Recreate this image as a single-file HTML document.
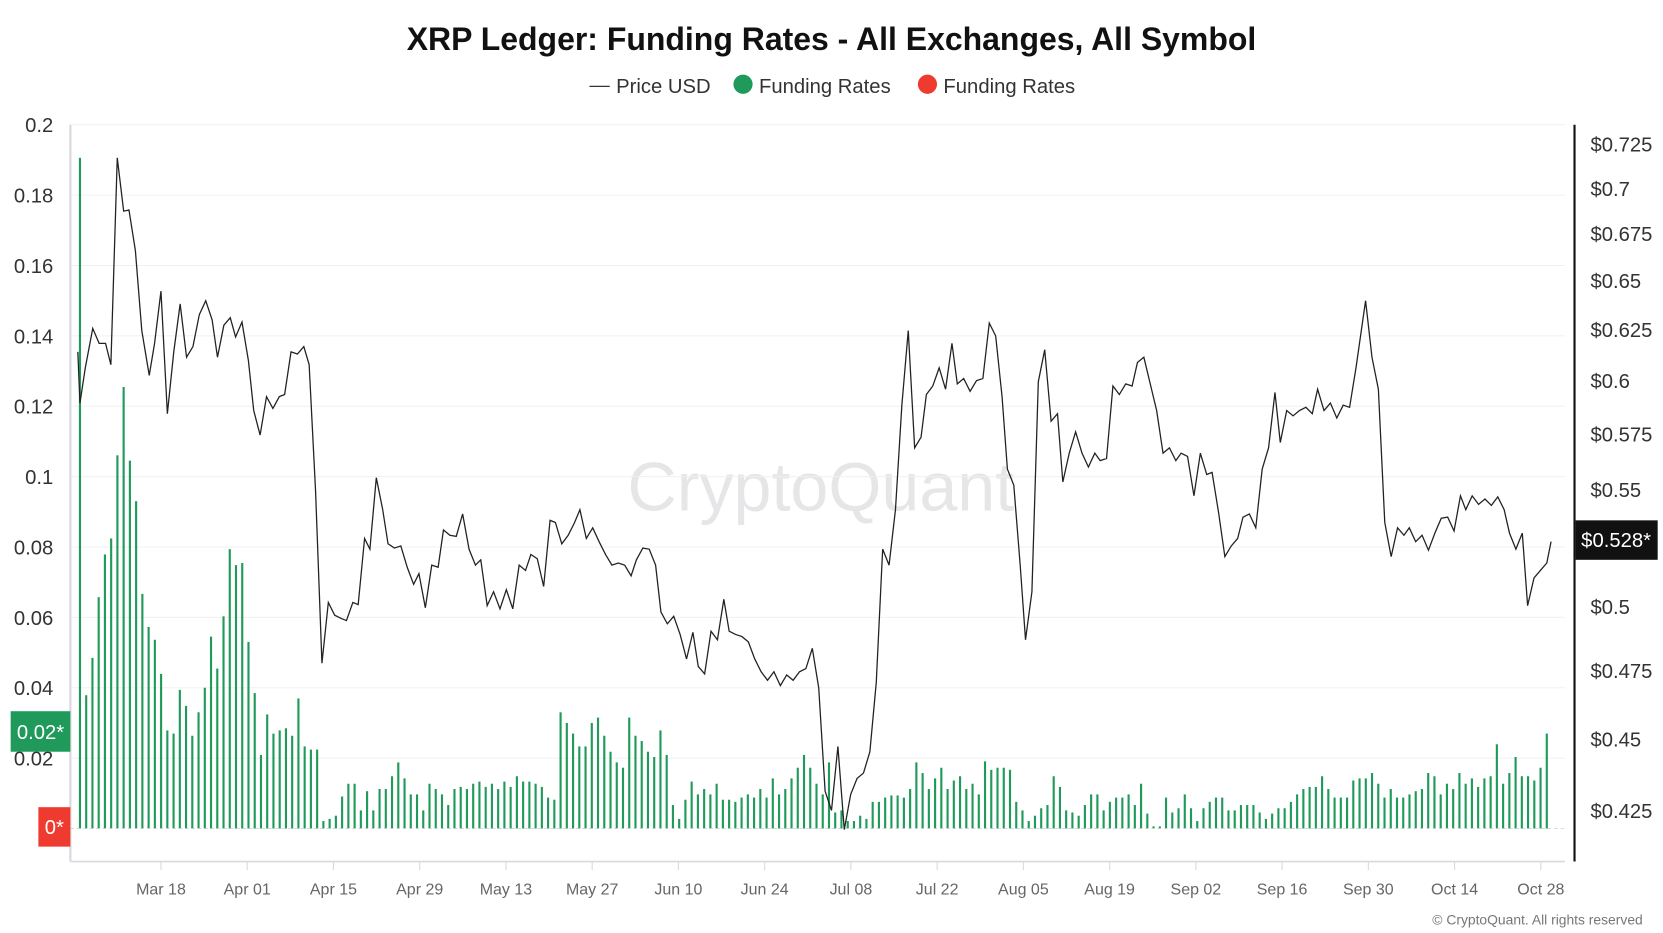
<!DOCTYPE html>
<html><head><meta charset="utf-8"><style>
html,body{margin:0;padding:0;background:#fff;}
svg{display:block;font-family:"Liberation Sans",sans-serif;}
</style></head><body>
<svg id="s" width="1663" height="933" viewBox="0 0 1560 875" preserveAspectRatio="none" xmlns="http://www.w3.org/2000/svg">
<rect width="1560" height="875" fill="#fff"/>
<text x="780" y="47" text-anchor="middle" font-size="30" font-weight="bold" fill="#111">XRP Ledger: Funding Rates - All Exchanges, All Symbol</text>
<g font-size="19" fill="#333">
<line x1="553" y1="81" x2="572" y2="81" stroke="#333" stroke-width="1.2"/>
<text x="578" y="87">Price USD</text>
<circle cx="697" cy="79" r="9" fill="#1f9a5a"/>
<text x="712" y="87">Funding Rates</text>
<circle cx="870" cy="79" r="9" fill="#ef3b2f"/>
<text x="885" y="87">Funding Rates</text>
</g>
<text x="770" y="479" text-anchor="middle" font-size="64" fill="#e6e6e8">CryptoQuant</text>
<g id="grid" stroke="#f0f0f0" stroke-width="1"></g>
<g id="lt" font-size="19" fill="#333" text-anchor="end"></g>
<g id="rt" font-size="19" fill="#333"></g>
<line x1="66" y1="117" x2="66" y2="808" stroke="#d8d8de" stroke-width="2"/>
<line x1="1477" y1="117" x2="1477" y2="808" stroke="#111" stroke-width="2"/>
<line x1="66" y1="808" x2="1468" y2="808" stroke="#d8d8de" stroke-width="1.5"/>
<g id="xt" font-size="15" fill="#666" text-anchor="middle"></g>
<g id="bars" fill="#1f9a5a"></g>
<line x1="66" y1="777" x2="1468" y2="777" stroke="#ccc" stroke-width="0.8" stroke-dasharray="3,3"/>
<polyline id="price" fill="none" stroke="#222" stroke-width="1.2"/>
<rect x="10" y="667" width="56" height="38" fill="#1f9a5a"/>
<text x="38" y="693" text-anchor="middle" font-size="19" fill="#fff">0.02*</text>
<rect x="36" y="757" width="30" height="37" fill="#ef3b2f"/>
<text x="51" y="782" text-anchor="middle" font-size="19" fill="#fff">0*</text>
<rect x="1478" y="488" width="77" height="37" fill="#111"/>
<text x="1516" y="513" text-anchor="middle" font-size="19" fill="#fff">$0.528*</text>
<text x="1541" y="867" text-anchor="end" font-size="13" fill="#777">© CryptoQuant. All rights reserved</text>
</svg>
<script>
var NS="http://www.w3.org/2000/svg";
function el(p,t,a,tx){var e=document.createElementNS(NS,t);for(var k in a)e.setAttribute(k,a[k]);if(tx!=null)e.textContent=tx;document.getElementById(p).appendChild(e);}
var ll=["0.2","0.18","0.16","0.14","0.12","0.1","0.08","0.06","0.04","0.02"];
for(var i=0;i<ll.length;i++){var y=117+66*i;el("grid","line",{x1:66,y1:y,x2:1468,y2:y});el("lt","text",{x:50,y:y+7},ll[i]);}
var rl=[["$0.725",135],["$0.7",177],["$0.675",219],["$0.65",263],["$0.625",309],["$0.6",357],["$0.575",407],["$0.55",459],["$0.5",569],["$0.475",629],["$0.45",693],["$0.425",760]];
rl.forEach(function(r){el("rt","text",{x:1492,y:r[1]+7},r[0]);});
var xl=["Mar 18","Apr 01","Apr 15","Apr 29","May 13","May 27","Jun 10","Jun 24","Jul 08","Jul 22","Aug 05","Aug 19","Sep 02","Sep 16","Sep 30","Oct 14","Oct 28"];
xl.forEach(function(t,i){var x=151+i*80.9;el("xt","line",{x1:x,y1:808,x2:x,y2:816,stroke:"#d8d8de"});el("xt","text",{x:x,y:839},t);});
var b=[148,652,617,560,520,505,427,363,432,470,557,588,600,632,685,688,647,662,690,668,645,597,627,578,515,530,528,602,650,708,670,688,685,683,690,655,700,703,703,770,768,765,747,735,735,760,742,760,740,740,728,715,730,745,745,760,735,740,745,755,740,738,740,735,733,738,735,740,733,738,728,733,733,735,738,748,750,668,678,688,700,700,678,673,690,705,715,720,673,690,695,705,710,685,708,755,768,750,733,745,740,745,735,750,750,752,748,745,748,740,748,730,745,740,730,720,708,720,735,745,715,762,760,770,770,765,768,752,752,748,746,746,748,740,715,725,740,730,720,740,732,728,740,735,745,714,722,720,720,722,752,760,770,765,758,755,728,738,760,762,765,755,745,745,760,752,748,748,745,755,735,763,775,775,748,762,758,745,758,770,758,752,748,748,760,760,755,755,755,762,768,763,758,758,752,745,740,738,738,728,740,748,748,748,732,730,730,725,735,748,740,748,748,745,742,740,725,728,745,735,740,725,735,730,738,730,728,698,735,725,710,728,728,732,720,688];
var n=b.length,x0=75,x1=1451;
for(var i=0;i<n;i++){var x=x0+(x1-x0)*i/(n-1);el("bars","rect",{x:x-1,y:b[i],width:2,height:777-b[i]});}
var p="73,330 75,378 80,345 87,308 93,322 99,322 104,342 110,148 116,198 121,197 127,235 133,310 140,352 145,322 151,273 157,388 163,330 169,285 175,335 181,325 187,295 193,282 199,300 204,335 210,305 216,298 221,316 227,302 233,338 238,385 244,408 250,372 256,383 262,372 267,370 273,330 279,332 285,325 290,342 296,460 302,622 308,565 314,577 320,580 325,582 331,565 336,567 342,505 347,515 353,448 359,478 364,510 370,514 376,512 382,532 388,548 393,538 399,570 405,530 411,532 416,497 422,502 428,503 434,482 440,515 446,530 451,525 457,568 463,555 469,571 475,553 481,571 487,530 493,535 498,520 504,524 510,550 516,488 521,490 527,510 533,502 539,490 544,478 550,505 556,495 562,508 568,520 574,530 580,528 586,530 592,540 597,525 603,514 609,515 615,530 620,574 626,585 632,578 638,595 644,618 650,593 655,625 661,632 667,592 673,600 679,562 684,592 690,595 696,597 702,602 708,618 714,630 720,638 726,630 732,643 738,633 744,638 750,630 756,627 762,608 768,645 774,742 780,760 786,700 792,778 798,745 804,730 810,725 816,705 822,640 828,515 834,530 840,478 846,380 852,310 858,420 864,410 869,370 875,362 881,345 887,365 893,322 898,360 904,355 910,367 916,357 922,355 928,303 934,315 940,372 945,440 951,455 957,530 962,600 968,555 974,358 980,328 986,395 992,388 997,452 1003,425 1009,405 1015,425 1021,438 1027,425 1032,432 1038,430 1044,362 1050,370 1056,360 1062,362 1067,340 1073,335 1079,360 1085,385 1091,425 1097,420 1103,432 1108,425 1114,428 1120,465 1126,425 1132,445 1137,443 1143,480 1149,522 1155,512 1161,505 1166,485 1172,482 1178,495 1184,440 1190,420 1196,368 1201,415 1207,385 1213,390 1219,385 1225,382 1231,388 1236,365 1242,385 1248,378 1254,392 1260,380 1266,382 1272,345 1281,282 1287,335 1293,365 1299,490 1305,522 1311,495 1317,502 1322,495 1328,508 1334,502 1340,516 1346,500 1352,486 1358,485 1364,498 1370,465 1375,478 1381,465 1387,473 1393,468 1399,474 1405,466 1411,478 1416,500 1422,515 1428,500 1433,568 1439,542 1445,535 1451,528 1455,508";
document.getElementById("price").setAttribute("points",p);
</script>
</body></html>
